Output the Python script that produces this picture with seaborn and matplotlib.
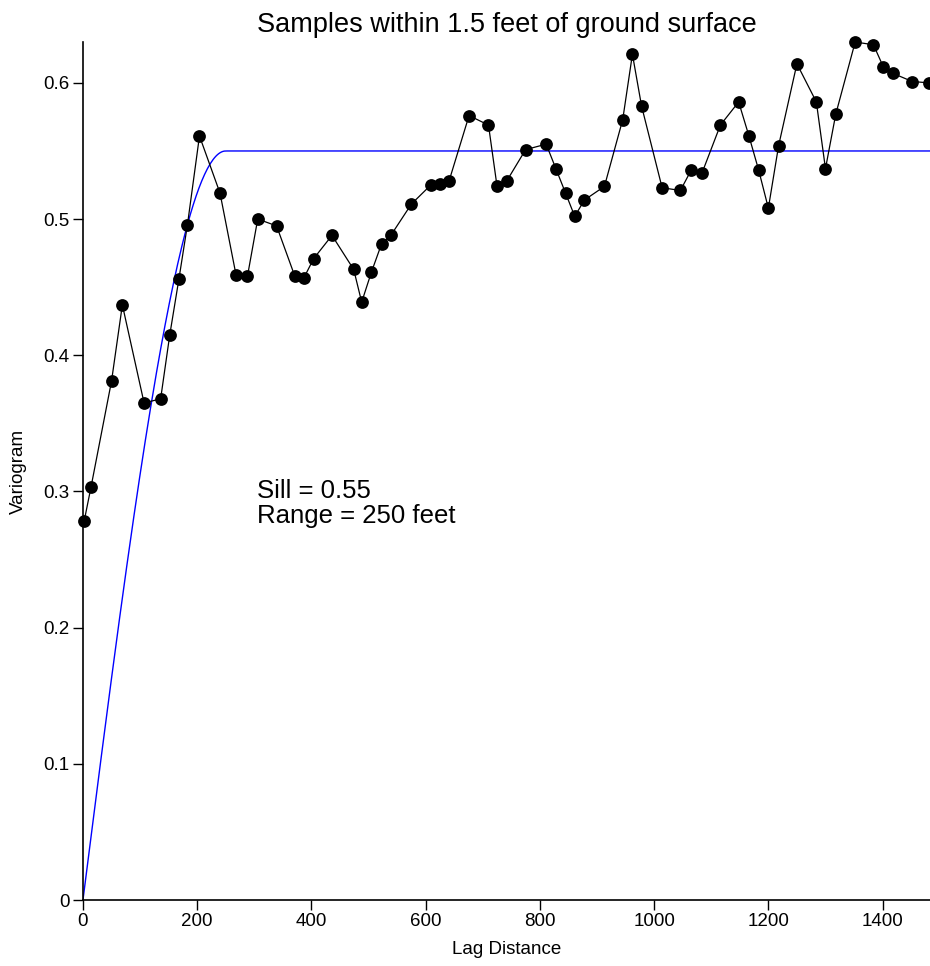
"""Experimental variogram with fitted spherical model."""

import matplotlib
matplotlib.use("Agg")
import matplotlib.pyplot as plt
import numpy as np
import pandas as pd
import seaborn as sns

lag = [2, 14, 50, 69, 107, 136, 152, 168, 183, 204,
       240, 268, 288, 306, 339, 371, 387, 404, 436, 474,
       488, 505, 523, 539, 575, 609, 625, 641, 676, 710,
       725, 742, 775, 811, 828, 845, 861, 878, 913, 945,
       962, 978, 1014, 1046, 1065, 1084, 1116, 1148, 1166, 1183,
       1200, 1218, 1250, 1284, 1300, 1318, 1352, 1384, 1401, 1418,
       1452, 1482]
gamma = [0.278, 0.303, 0.381, 0.437, 0.365, 0.368, 0.415, 0.456, 0.496, 0.561,
         0.519, 0.459, 0.458, 0.500, 0.495, 0.458, 0.457, 0.471, 0.488, 0.463,
         0.439, 0.461, 0.482, 0.488, 0.511, 0.525, 0.526, 0.528, 0.576, 0.569,
         0.524, 0.528, 0.551, 0.555, 0.537, 0.519, 0.502, 0.514, 0.524, 0.573,
         0.621, 0.583, 0.523, 0.521, 0.536, 0.534, 0.569, 0.586, 0.561, 0.536,
         0.508, 0.554, 0.614, 0.586, 0.537, 0.577, 0.630, 0.628, 0.612, 0.607,
         0.601, 0.600]

# fitted spherical model
sill = 0.55
vrange = 250

x_ticks = [0, 200, 400, 600, 800, 1000, 1200, 1400]
y_ticks = [0, 0.1, 0.2, 0.3, 0.4, 0.5, 0.6]
y_ticklabels = ["0", "0.1", "0.2", "0.3", "0.4", "0.5", "0.6"]

obs = pd.DataFrame({"lag": lag, "gamma": gamma})
h = np.linspace(0, 1483, 600)
r = np.clip(h / vrange, 0, 1)
model = pd.DataFrame({"lag": h, "gamma": sill * (1.5 * r - 0.5 * r ** 3)})

sns.set_theme(style="ticks")
plt.rcParams["font.family"] = ["Liberation Sans", "DejaVu Sans"]
plt.rcParams["text.color"] = "black"
plt.rcParams["axes.labelcolor"] = "black"
plt.rcParams["xtick.color"] = "black"
plt.rcParams["ytick.color"] = "black"

fig = plt.figure(figsize=(9.30, 9.66), dpi=100)
ax = fig.add_axes([0.0892, 0.0683, 0.9108, 0.8882])

sns.lineplot(data=model, x="lag", y="gamma", ax=ax, color="#0000ff",
             linewidth=1.0, zorder=2)
sns.lineplot(data=obs, x="lag", y="gamma", ax=ax, color="black",
             linewidth=0.9, marker="o", markersize=9.2, markeredgewidth=0,
             markerfacecolor="black", zorder=3, clip_on=False)

ax.set_xlim(0, 1483)
ax.set_ylim(0, 0.630)
ax.set_xticks(x_ticks)
ax.set_yticks(y_ticks)
ax.set_yticklabels(y_ticklabels)
ax.tick_params(axis="both", labelsize=13.5, length=7.5, width=1.0,
               direction="out", pad=2)
for s in ["top", "right"]:
    ax.spines[s].set_visible(False)
for s in ["left", "bottom"]:
    ax.spines[s].set_linewidth(1.2)
    ax.spines[s].set_color("black")

ax.set_xlabel("Lag Distance", fontsize=13.5, labelpad=8)
ax.set_ylabel("Variogram", fontsize=13.5, labelpad=12)
ax.set_title("Samples within 1.5 feet of ground surface", fontsize=19.5, pad=7)

ax.text(305, 0.309, f"Sill = {sill}\nRange = {vrange} feet", fontsize=18.5,
        va="top", ha="left", linespacing=1.05)

fig.savefig("out.png", dpi=100)
plt.close(fig)
